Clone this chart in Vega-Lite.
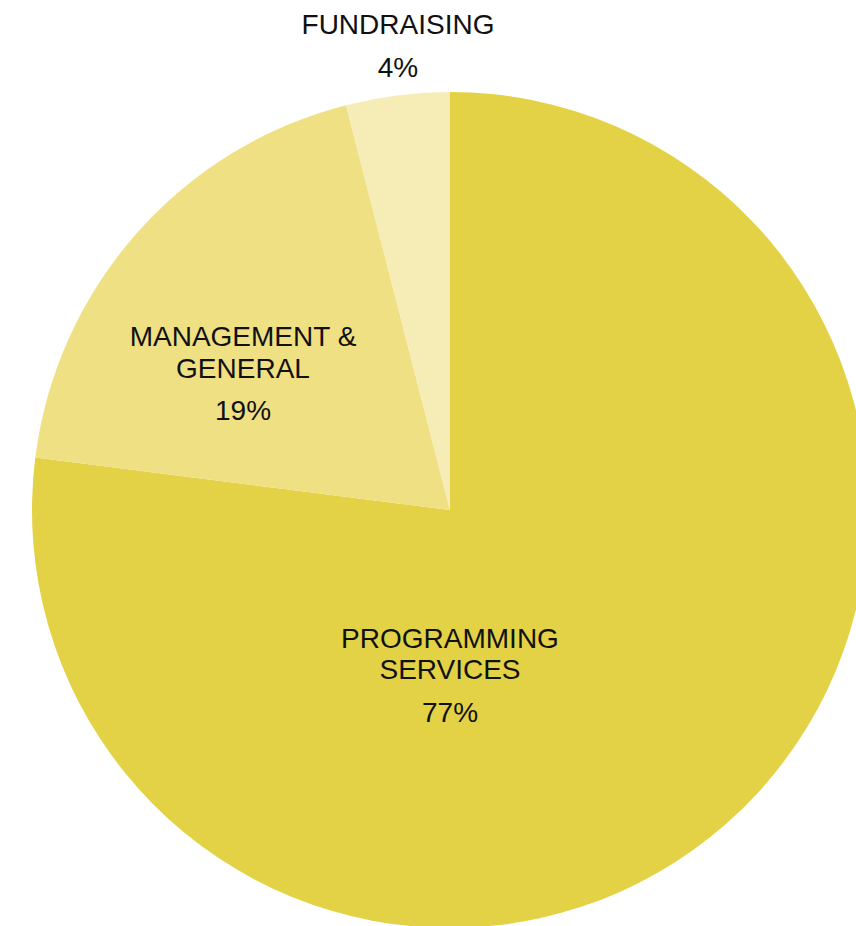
{
  "$schema": "https://vega.github.io/schema/vega-lite/v6.json",
  "width": 900,
  "height": 1020,
  "autosize": {"type": "none"},
  "padding": 0,
  "background": "white",
  "config": {"view": {"stroke": null}},
  "data": {"values": [
    {"category": "Programming Services", "order": 1, "value": 77, "name": "PROGRAMMING\nSERVICES", "pct": "77%"},
    {"category": "Management & General", "order": 2, "value": 19, "name": "MANAGEMENT &\nGENERAL", "pct": "19%"},
    {"category": "Fundraising", "order": 3, "value": 4, "name": "FUNDRAISING", "pct": "4%"}
  ]},
  "layer": [
    {
      "mark": {"type": "arc", "radius": 418, "stroke": null},
      "encoding": {
        "theta": {"field": "value", "type": "quantitative", "stack": true},
        "order": {"field": "order", "type": "quantitative"},
        "color": {"field": "category", "type": "nominal", "legend": null,
          "scale": {"domain": ["Programming Services", "Management & General", "Fundraising"], "range": ["#E3D245", "#F0E084", "#F6EDB6"]}}
      }
    },
    {
      "transform": [{"filter": "datum.category === 'Fundraising'"}],
      "mark": {"type": "text", "font": "Liberation Sans", "fontSize": 28, "color": "#111111", "align": "center", "baseline": "alphabetic", "dx": -52, "dy": -476},
      "encoding": {"text": {"field": "name"}}
    },
    {
      "transform": [{"filter": "datum.category === 'Fundraising'"}],
      "mark": {"type": "text", "font": "Liberation Sans", "fontSize": 28, "color": "#111111", "align": "center", "baseline": "alphabetic", "dx": -52, "dy": -433},
      "encoding": {"text": {"field": "pct"}}
    },
    {
      "transform": [{"filter": "datum.category === 'Management & General'"}],
      "mark": {"type": "text", "font": "Liberation Sans", "fontSize": 28, "color": "#111111", "align": "center", "baseline": "alphabetic", "lineBreak": "\n", "lineHeight": 32, "dx": -207, "dy": -164},
      "encoding": {"text": {"field": "name"}}
    },
    {
      "transform": [{"filter": "datum.category === 'Management & General'"}],
      "mark": {"type": "text", "font": "Liberation Sans", "fontSize": 28, "color": "#111111", "align": "center", "baseline": "alphabetic", "dx": -207, "dy": -90},
      "encoding": {"text": {"field": "pct"}}
    },
    {
      "transform": [{"filter": "datum.category === 'Programming Services'"}],
      "mark": {"type": "text", "font": "Liberation Sans", "fontSize": 28, "color": "#111111", "align": "center", "baseline": "alphabetic", "lineBreak": "\n", "lineHeight": 31, "dx": 0, "dy": 138},
      "encoding": {"text": {"field": "name"}}
    },
    {
      "transform": [{"filter": "datum.category === 'Programming Services'"}],
      "mark": {"type": "text", "font": "Liberation Sans", "fontSize": 28, "color": "#111111", "align": "center", "baseline": "alphabetic", "dx": 0, "dy": 212},
      "encoding": {"text": {"field": "pct"}}
    }
  ]
}
